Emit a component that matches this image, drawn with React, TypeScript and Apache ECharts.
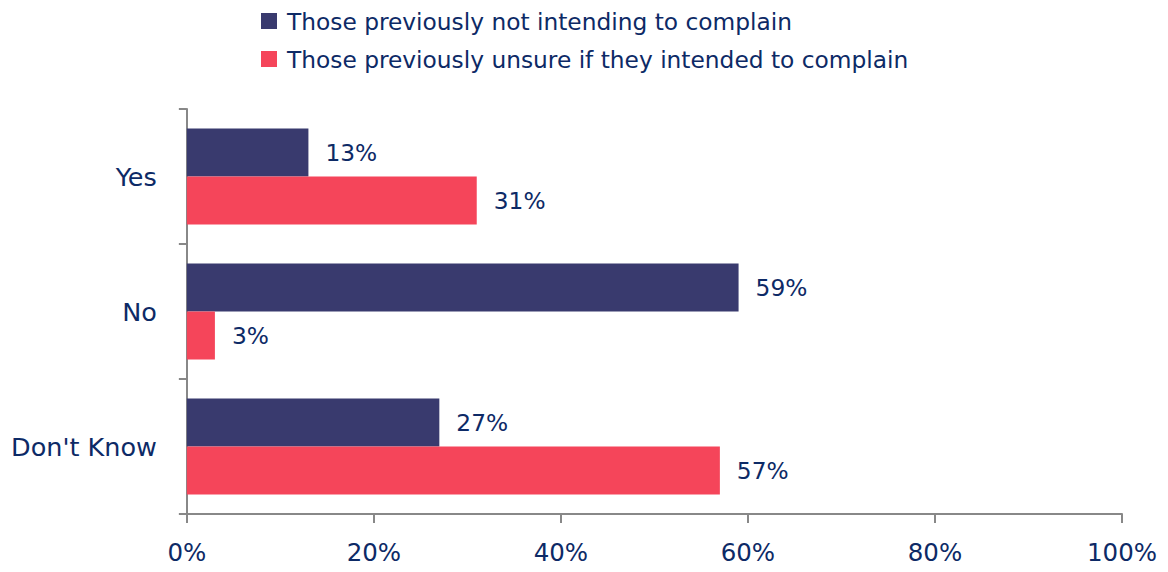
import React, { useEffect, useRef } from "react";
import * as echarts from "echarts";

const categories = ["Yes", "No", "Don't Know"];
const seriesNames = [
  "Those previously not intending to complain",
  "Those previously unsure if they intended to complain",
];
const notIntending = [13, 59, 27];
const unsure = [31, 3, 57];
const colors = ["#393a6e", "#f5455a"];
const textColor = "#0d2a66";
const font = "DejaVu Sans";
const fs = 23.3;

export default function App() {
  const ref = useRef<HTMLDivElement>(null);
  useEffect(() => {
    const chart = echarts.init(ref.current!, null, { renderer: "svg" });
    const label = {
      show: true,
      position: "right",
      distance: 17,
      formatter: "{c}%",
      color: textColor,
      fontFamily: font,
      fontSize: fs,
    };
    chart.setOption({
      animation: false,
      textStyle: { fontFamily: font },
      legend: {
        orient: "vertical",
        left: 253,
        top: 1,
        padding: 0,
        itemWidth: 16,
        itemHeight: 16,
        itemGap: 14,
        icon: "rect",
        textStyle: {
          color: textColor,
          fontSize: fs,
          fontFamily: font,
          lineHeight: 24,
          padding: [0, 0, 0, 5],
        },
        data: seriesNames,
      },
      grid: { left: 178, right: 32, top: 101, bottom: 58, containLabel: false },
      xAxis: {
        type: "value",
        min: 0,
        max: 100,
        interval: 20,
        splitLine: { show: false },
        axisLine: { show: true, lineStyle: { color: "#888", width: 2 } },
        axisTick: { show: true, length: 9, lineStyle: { color: "#888", width: 2 } },
        axisLabel: {
          formatter: "{value}%",
          color: textColor,
          fontSize: 24.5,
          fontFamily: font,
          margin: 26,
        },
      },
      yAxis: {
        type: "category",
        inverse: true,
        data: categories,
        axisLine: { show: true, lineStyle: { color: "#888", width: 2 } },
        axisTick: { show: true, length: 8, lineStyle: { color: "#888", width: 2 } },
        axisLabel: { color: textColor, fontSize: 25.5, fontFamily: font, margin: 30 },
      },
      series: [
        {
          name: seriesNames[0],
          type: "bar",
          data: notIntending,
          barWidth: 48,
          barGap: "0%",
          itemStyle: { color: colors[0] },
          label,
        },
        {
          name: seriesNames[1],
          type: "bar",
          data: unsure,
          barWidth: 48,
          barGap: "0%",
          itemStyle: { color: colors[1] },
          label,
        },
      ],
    });
    return () => chart.dispose();
  }, []);
  return <div ref={ref} style={{ width: 1152, height: 564, marginBottom: -8 }} />;
}
